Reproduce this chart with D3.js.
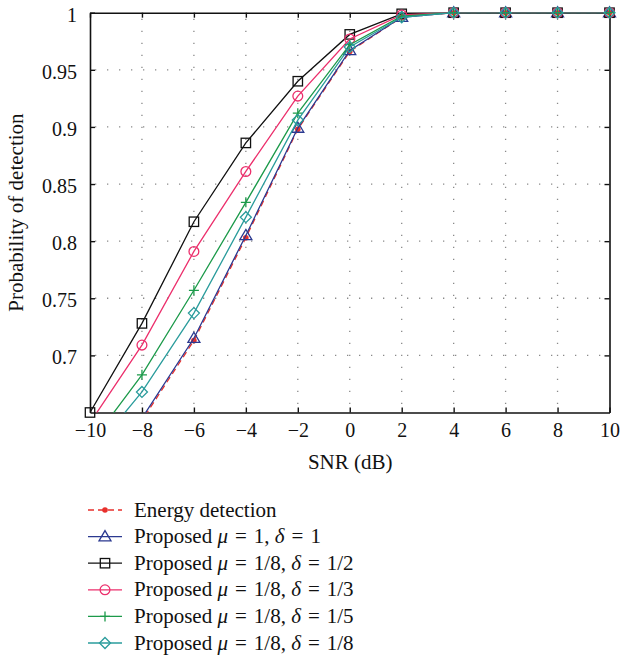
<!DOCTYPE html>
<html>
<head>
<meta charset="utf-8">
<script src="https://cdn.jsdelivr.net/npm/d3@7"></script>
<style>
  html, body { margin: 0; padding: 0; background: #fff; }
  svg { display: block; }
  text { font-family: "Liberation Serif", "DejaVu Serif", serif; fill: #111; }
</style>
</head>
<body>
<div id="chart"></div>
<script>
// ---- Data ----
const snr = [-10, -8, -6, -4, -2, 0, 2, 4, 6, 8, 10];
const energyDetection = [0.574, 0.643, 0.713, 0.803, 0.898, 0.966, 0.996, 1, 1, 1, 1];
const proposed_1_1   = [0.576, 0.645, 0.715, 0.805, 0.899, 0.967, 0.996, 1, 1, 1, 1];
const proposed_8_2   = [0.650, 0.728, 0.817, 0.886, 0.940, 0.981, 0.999, 1, 1, 1, 1];
const proposed_8_3   = [0.641, 0.709, 0.791, 0.861, 0.927, 0.977, 0.998, 1, 1, 1, 1];
const proposed_8_5   = [0.622, 0.683, 0.757, 0.834, 0.912, 0.972, 0.997, 1, 1, 1, 1];
const proposed_8_8   = [0.613, 0.668, 0.737, 0.821, 0.906, 0.970, 0.996, 1, 1, 1, 1];
const xTicks = [-10, -8, -6, -4, -2, 0, 2, 4, 6, 8, 10];
const yTicks = [0.7, 0.75, 0.8, 0.85, 0.9, 0.95, 1];
const yTickLabels = ["0.7", "0.75", "0.8", "0.85", "0.9", "0.95", "1"];
const xLabel = "SNR (dB)";
const yLabel = "Probability of detection";

const EQ = "\u2004=\u2004";
const series = [
  { name: "energy", values: energyDetection, color: "#e8302c", marker: "dot", dash: "6,4",
    label: [["Energy detection", false]] },
  { name: "p11", values: proposed_1_1, color: "#2b3990", marker: "triangle",
    label: [["Proposed ", false], ["\u03bc", true], [EQ + "1, ", false], ["\u03b4", true], [EQ + "1", false]] },
  { name: "p82", values: proposed_8_2, color: "#111111", marker: "square",
    label: [["Proposed ", false], ["\u03bc", true], [EQ + "1/8, ", false], ["\u03b4", true], [EQ + "1/2", false]] },
  { name: "p83", values: proposed_8_3, color: "#ec2f6c", marker: "circle",
    label: [["Proposed ", false], ["\u03bc", true], [EQ + "1/8, ", false], ["\u03b4", true], [EQ + "1/3", false]] },
  { name: "p85", values: proposed_8_5, color: "#1c9a4a", marker: "plus",
    label: [["Proposed ", false], ["\u03bc", true], [EQ + "1/8, ", false], ["\u03b4", true], [EQ + "1/5", false]] },
  { name: "p88", values: proposed_8_8, color: "#2a9c9c", marker: "diamond",
    label: [["Proposed ", false], ["\u03bc", true], [EQ + "1/8, ", false], ["\u03b4", true], [EQ + "1/8", false]] }
];

// ---- Layout ----
const W = 633, H = 655;
const plot = { left: 90, right: 609.5, top: 12.7, bottom: 412.5 };

const svg = d3.select("#chart").append("svg").attr("width", W).attr("height", H);

const x = d3.scaleLinear().domain([-10, 10]).range([plot.left, plot.right]);
const y = d3.scaleLinear().domain([0.65, 1]).range([plot.bottom, plot.top]);

// clip
svg.append("defs").append("clipPath").attr("id", "plotClip")
  .append("rect").attr("x", plot.left).attr("y", plot.top)
  .attr("width", plot.right - plot.left).attr("height", plot.bottom - plot.top);

// grid
const grid = svg.append("g").attr("stroke", "#8a8a8a").attr("stroke-width", 1.3)
  .attr("stroke-dasharray", "1.3,10.7");
grid.selectAll("line.h").data(yTicks.filter(d => d < 1)).join("line")
  .attr("x1", plot.left + 5).attr("x2", plot.right)
  .attr("y1", d => y(d)).attr("y2", d => y(d));
grid.selectAll("line.v").data(xTicks.filter(d => d > -10 && d < 10)).join("line")
  .attr("x1", d => x(d)).attr("x2", d => x(d))
  .attr("y1", plot.top + 6).attr("y2", plot.bottom);

// axes (D3 axes, inward ticks)
const fmtX = d3.format("");
const axB = svg.append("g").attr("transform", `translate(0,${plot.bottom})`)
  .call(d3.axisBottom(x).tickValues(xTicks).tickSizeInner(-5).tickSizeOuter(0).tickPadding(14).tickFormat(fmtX));
const axT = svg.append("g").attr("transform", `translate(0,${plot.top})`)
  .call(d3.axisTop(x).tickValues(xTicks).tickSizeInner(-5).tickSizeOuter(0).tickFormat(""));
const axL = svg.append("g").attr("transform", `translate(${plot.left},0)`)
  .call(d3.axisLeft(y).tickValues(yTicks).tickSizeInner(-5).tickSizeOuter(0).tickPadding(13)
    .tickFormat((d, i) => yTickLabels[i]));
const axR = svg.append("g").attr("transform", `translate(${plot.right},0)`)
  .call(d3.axisRight(y).tickValues(yTicks).tickSizeInner(-5).tickSizeOuter(0).tickFormat(""));

[axB, axT, axL, axR].forEach(a => {
  a.attr("font-family", null);
  a.select(".domain").attr("stroke", "#111").attr("stroke-width", 1.6);
  a.selectAll(".tick line").attr("stroke", "#111").attr("stroke-width", 1.4);
  a.selectAll("text").attr("font-size", 20).attr("fill", "#111");
});
axB.selectAll(".tick text").attr("dy", null).attr("y", 24);
axL.selectAll(".tick text").attr("dy", "0.42em");

// axis labels
svg.append("text").attr("x", (plot.left + plot.right) / 2 + 0.5).attr("y", 469)
  .attr("text-anchor", "middle").attr("font-size", 21).text(xLabel);
svg.append("text").attr("transform", `translate(23,${(plot.top + plot.bottom) / 2}) rotate(-90)`)
  .attr("text-anchor", "middle").attr("font-size", 21).text(yLabel);

// marker drawing
function drawMarker(g, type, cx, cy, color) {
  const sw = 1.3;
  if (type === "dot") {
    g.append("circle").attr("cx", cx).attr("cy", cy).attr("r", 2.8).attr("fill", color);
  } else if (type === "triangle") {
    const s = 6;
    g.append("path").attr("d", `M${cx},${cy - s} L${cx + s},${cy + s * 0.7} L${cx - s},${cy + s * 0.7} Z`)
      .attr("fill", "none").attr("stroke", color).attr("stroke-width", sw);
  } else if (type === "square") {
    g.append("rect").attr("x", cx - 4.7).attr("y", cy - 4.7).attr("width", 9.4).attr("height", 9.4)
      .attr("fill", "none").attr("stroke", color).attr("stroke-width", sw);
  } else if (type === "circle") {
    g.append("circle").attr("cx", cx).attr("cy", cy).attr("r", 4.9)
      .attr("fill", "none").attr("stroke", color).attr("stroke-width", sw);
  } else if (type === "plus") {
    g.append("path").attr("d", `M${cx - 5},${cy} H${cx + 5} M${cx},${cy - 5} V${cy + 5}`)
      .attr("fill", "none").attr("stroke", color).attr("stroke-width", sw);
  } else if (type === "diamond") {
    const s = 5.5;
    g.append("path").attr("d", `M${cx},${cy - s} L${cx + s},${cy} L${cx},${cy + s} L${cx - s},${cy} Z`)
      .attr("fill", "none").attr("stroke", color).attr("stroke-width", sw);
  }
}

// series
const line = d3.line().x(d => x(d[0])).y(d => y(d[1]));
series.forEach(s => {
  const pts = snr.map((v, i) => [v, s.values[i]]);
  const g = svg.append("g");
  g.append("path").datum(pts).attr("d", line).attr("clip-path", "url(#plotClip)")
    .attr("fill", "none").attr("stroke", s.color).attr("stroke-width", 1.3)
    .attr("stroke-dasharray", s.dash || null);
  pts.filter(p => p[1] >= 0.6495).forEach(p => drawMarker(g, s.marker, x(p[0]), y(p[1]), s.color));
});

// legend
const legend = svg.append("g");
const legY0 = 510, legStep = 26.6;
series.forEach((s, i) => {
  const ly = legY0 + i * legStep;
  const g = legend.append("g");
  g.append("line").attr("x1", 88).attr("x2", 122).attr("y1", ly).attr("y2", ly)
    .attr("stroke", s.color).attr("stroke-width", 1.3).attr("stroke-dasharray", s.dash || null);
  drawMarker(g, s.marker, 105, ly, s.color);
  const t = g.append("text").attr("x", 134).attr("y", ly + 6.5).attr("font-size", 21);
  s.label.forEach(([txt, it]) => {
    t.append("tspan").attr("font-style", it ? "italic" : null).text(txt);
  });
});
</script>
</body>
</html>
